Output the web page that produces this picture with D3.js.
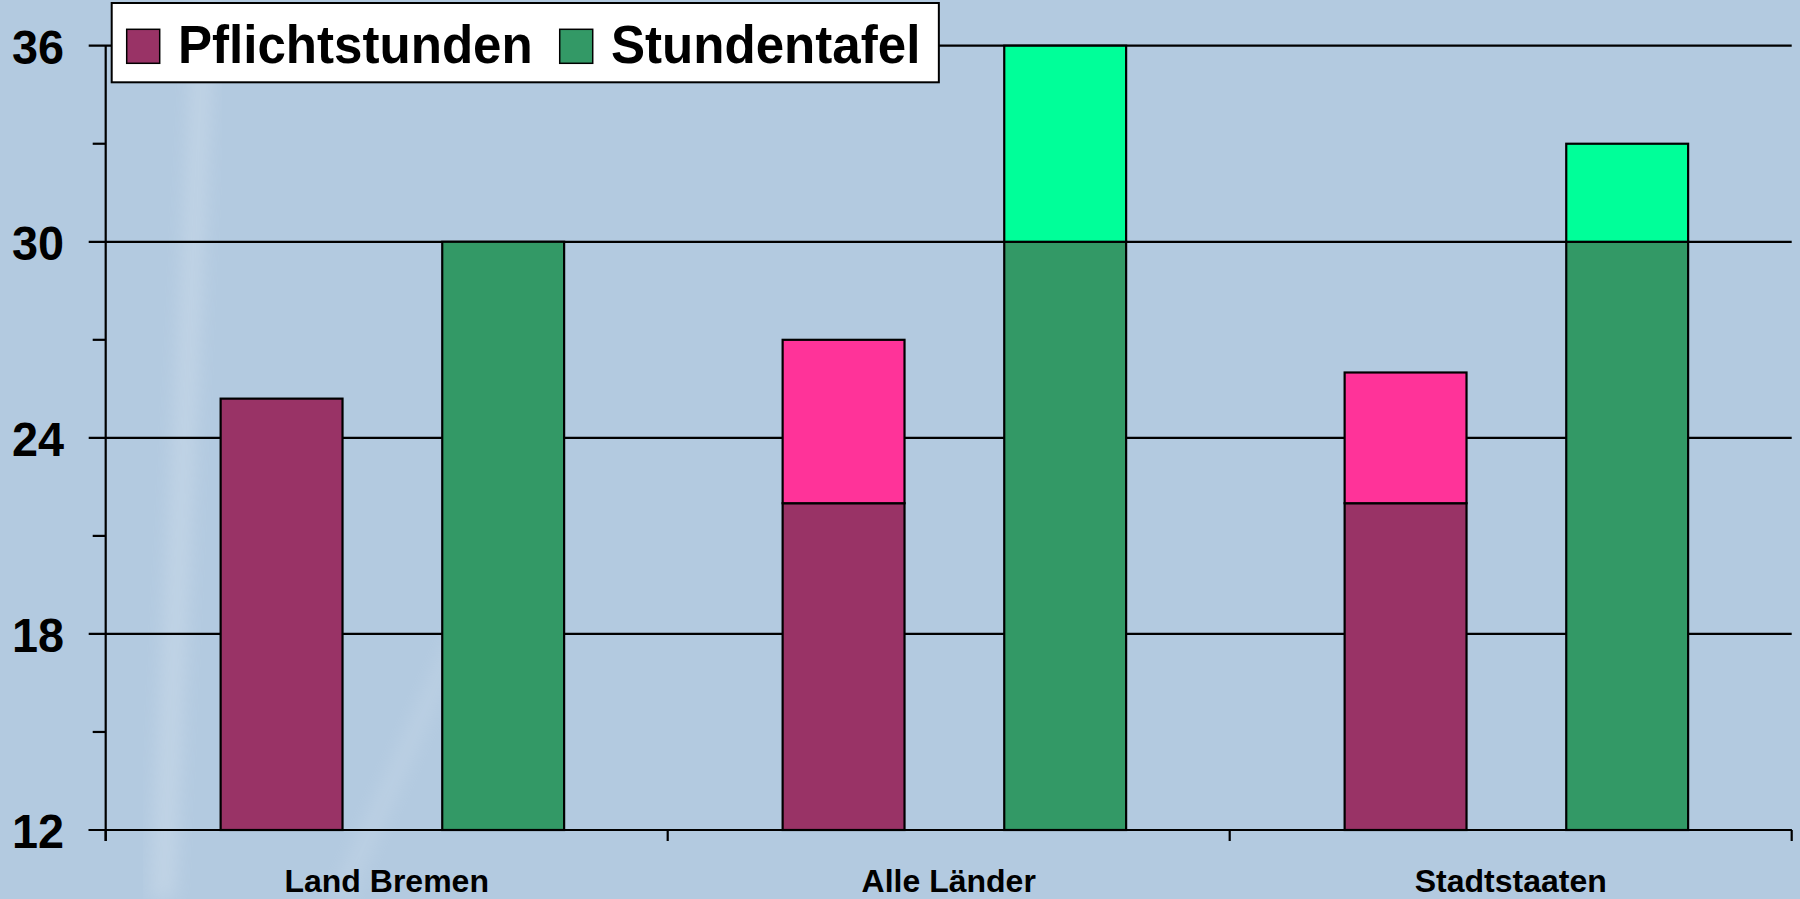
<!DOCTYPE html>
<html>
<head>
<meta charset="utf-8">
<script src="https://cdn.jsdelivr.net/npm/d3@7"></script>
<style>
  body { margin: 0; overflow: hidden; background: #b3cae0; }
  svg text { font-family: "Liberation Sans", Arial, sans-serif; font-weight: bold; fill: #000; }
</style>
</head>
<body>
<div id="chart"></div>
<script>
"use strict";

// == data ==
var categories = ["Land Bremen", "Alle Länder", "Stadtstaaten"];
var seriesNames = ["Pflichtstunden", "Stundentafel"];
var pflichtstunden = [25.2, 22, 22];        // lower part
var pflichtstundenBis = [25.2, 27, 26];     // upper end of the range
var stundentafel = [30, 30, 30];
var stundentafelBis = [30, 36, 33];
var yTicks = [12, 18, 24, 30, 36];
var yMinorTicks = [15, 21, 27, 33];

var baseColors = ["#993366", "#339966"];
var rangeColors = ["#FF3399", "#00FF99"];

// == boilerplate ==
var W = 1800, H = 899;
var margin = { top: 45.7, right: 8.3, bottom: 69, left: 105.7 };
var width = W - margin.left - margin.right,
    height = H - margin.top - margin.bottom;
var textScale = 0.955; // glyphs in the picture are a bit condensed

var svg = d3.select("#chart")
  .append("svg")
  .attr("width", W)
  .attr("height", H);

// background with a couple of faint streaks
var defs = svg.append("defs");
defs.append("filter").attr("id", "blur")
  .append("feGaussianBlur").attr("stdDeviation", 9);
svg.append("rect").attr("width", W).attr("height", H).attr("fill", "#b3cae0");
svg.append("path")
  .attr("d", "M150,899 L175,899 L215,0 L195,0 Z")
  .attr("fill", "#ffffff").attr("opacity", 0.18).attr("filter", "url(#blur)");
svg.append("path")
  .attr("d", "M330,899 L350,899 L560,420 L548,420 Z")
  .attr("fill", "#ffffff").attr("opacity", 0.12).attr("filter", "url(#blur)");

var g = svg.append("g")
  .attr("transform", "translate(" + margin.left + "," + margin.top + ")");

var x = d3.scaleBand()
  .domain(categories)
  .range([0, width])
  .padding(0);

var xInner = d3.scaleBand()
  .domain(seriesNames)
  .range([0, x.bandwidth()])
  .paddingInner(0.45)
  .paddingOuter(0.493)
  .align(0.526);

var y = d3.scaleLinear()
  .domain([12, 36])
  .range([height, 0]);

// gridlines (also act as the major ticks left of the axis)
g.selectAll(".grid")
  .data(yTicks)
  .enter()
  .append("line")
  .attr("x1", -17)
  .attr("x2", width)
  .attr("y1", function (d) { return y(d); })
  .attr("y2", function (d) { return y(d); })
  .attr("stroke", "#000")
  .attr("stroke-width", 2.2);

g.selectAll(".minor")
  .data(yMinorTicks)
  .enter()
  .append("line")
  .attr("x1", -13)
  .attr("x2", 0)
  .attr("y1", function (d) { return y(d); })
  .attr("y2", function (d) { return y(d); })
  .attr("stroke", "#000")
  .attr("stroke-width", 2.2);

// build bar segments
var segments = [];
categories.forEach(function (c, i) {
  var lows = [pflichtstunden[i], stundentafel[i]];
  var highs = [pflichtstundenBis[i], stundentafelBis[i]];
  seriesNames.forEach(function (s, j) {
    segments.push({ cat: c, series: s, y0: 12, y1: lows[j], color: baseColors[j] });
    if (highs[j] > lows[j]) {
      segments.push({ cat: c, series: s, y0: lows[j], y1: highs[j], color: rangeColors[j] });
    }
  });
});

g.selectAll(".bar")
  .data(segments)
  .enter()
  .append("rect")
  .attr("x", function (d) { return x(d.cat) + xInner(d.series); })
  .attr("width", xInner.bandwidth())
  .attr("y", function (d) { return y(d.y1); })
  .attr("height", function (d) { return y(d.y0) - y(d.y1); })
  .attr("fill", function (d) { return d.color; })
  .attr("stroke", "#000")
  .attr("stroke-width", 2.2);

// axes
g.append("line")
  .attr("x1", 0).attr("x2", 0)
  .attr("y1", 0).attr("y2", height + 11)
  .attr("stroke", "#000").attr("stroke-width", 2.2);
g.append("line")
  .attr("x1", -17).attr("x2", width)
  .attr("y1", height).attr("y2", height)
  .attr("stroke", "#000").attr("stroke-width", 2.2);

var xTicks = categories.map(function (c) { return x(c); }).concat([width]);
g.selectAll(".xtick")
  .data(xTicks)
  .enter()
  .append("line")
  .attr("x1", function (d) { return d; })
  .attr("x2", function (d) { return d; })
  .attr("y1", height)
  .attr("y2", height + 11)
  .attr("stroke", "#000").attr("stroke-width", 2.2);

// y labels
g.selectAll(".ylabel")
  .data(yTicks)
  .enter()
  .append("text")
  .attr("text-anchor", "end")
  .attr("font-size", 49)
  .attr("transform", function (d) {
    return "translate(" + (64 - margin.left) + "," + (y(d) + 18) + ") scale(" + textScale + ",1)";
  })
  .text(function (d) { return d; });

// x labels
g.selectAll(".xlabel")
  .data(categories)
  .enter()
  .append("text")
  .attr("text-anchor", "middle")
  .attr("font-size", 32)
  .attr("transform", function (d) {
    return "translate(" + (x(d) + x.bandwidth() / 2) + "," + (height + 62) + ")";
  })
  .text(function (d) { return d; });

// legend
var legend = svg.append("g");
var legendBox = legend.append("rect")
  .attr("x", 111.7).attr("y", 3)
  .attr("height", 79.3)
  .attr("fill", "#fff")
  .attr("stroke", "#000")
  .attr("stroke-width", 2);

var cursor = 126.7;
seriesNames.forEach(function (s, j) {
  legend.append("rect")
    .attr("x", cursor).attr("y", 29.3)
    .attr("width", 33).attr("height", 34)
    .attr("fill", baseColors[j])
    .attr("stroke", "#000").attr("stroke-width", 1.5);
  var t = legend.append("text")
    .attr("font-size", 53.5)
    .attr("transform", "translate(" + (cursor + 51.3) + ",63.3) scale(" + textScale + ",1)")
    .text(s);
  var tw = t.node().getComputedTextLength() * textScale;
  cursor = cursor + 51.3 + tw;
  if (j < seriesNames.length - 1) cursor += 27;
});
legendBox.attr("width", cursor + 18.5 - 111.7);
</script>
</body>
</html>
